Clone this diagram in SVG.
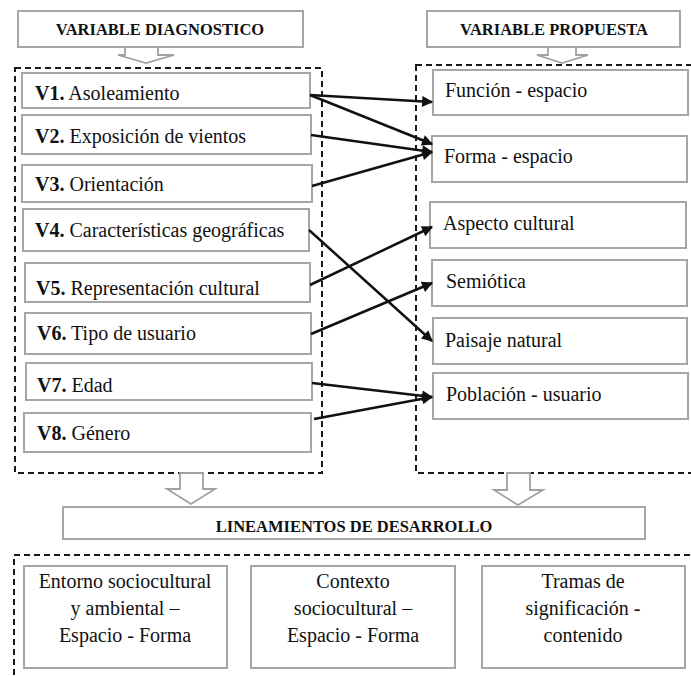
<svg xmlns="http://www.w3.org/2000/svg" width="691" height="677" viewBox="0 0 691 677">
<defs>
<style>
.box{fill:#fff;stroke:#a6a6a6;stroke-width:2}
.dash{fill:none;stroke:#1a1a1a;stroke-width:2;stroke-dasharray:6,4}
.hollow{fill:#fff;stroke:#a0a0a0;stroke-width:1.8;stroke-linejoin:miter}
.t{font-family:"Liberation Serif","Times New Roman",serif;font-size:20px;fill:#111}
.h{font-family:"Liberation Serif","Times New Roman",serif;font-size:16.5px;font-weight:bold;fill:#111}
.c{text-anchor:middle}
.b{font-weight:bold}
.con{fill:none;stroke:#111;stroke-width:2.5;marker-end:url(#ah)}
</style>
<marker id="ah" viewBox="0 0 10 10" refX="9" refY="5" markerWidth="5" markerHeight="4.4" orient="auto" markerUnits="strokeWidth">
<path d="M0,0 L10,5 L0,10 Z" fill="#111"/>
</marker>
</defs>
<rect width="691" height="677" fill="#fff"/>

<!-- containers -->
<rect class="dash" x="15" y="68" width="307" height="405"/>
<rect class="dash" x="416" y="65" width="290" height="408"/>
<rect class="dash" x="14" y="555" width="690" height="140"/>

<!-- hollow arrows -->
<path class="hollow" d="M125,47 L158,47 L158,55 L174,55 L146,63 L118,55 L125,55 Z"/>
<path class="hollow" d="M548,47 L576,47 L576,55 L588,55 L562,63 L537,55 L548,55 Z"/>
<path class="hollow" d="M180,473 L203,473 L203,489 L215,489 L191,504 L167,489 L180,489 Z"/>
<path class="hollow" d="M507,473 L530,473 L530,490 L543,490 L518,505 L494,490 L507,490 Z"/>

<g id="hdr-diag"><rect class="box" x="18" y="11" width="285" height="36"/><text class="h c" x="160" y="35">VARIABLE DIAGNOSTICO</text></g>
<g id="hdr-prop"><rect class="box" x="427" y="11" width="253" height="36"/><text class="h c" x="554" y="35">VARIABLE PROPUESTA</text></g>

<g id="v1"><rect class="box" x="22" y="73" width="288" height="35"/><text class="t" x="35" y="100"><tspan class="b">V1.</tspan> Asoleamiento</text></g>
<g id="v2"><rect class="box" x="22" y="115" width="289" height="39"/><text class="t" x="35" y="143"><tspan class="b">V2.</tspan> Exposición de vientos</text></g>
<g id="v3"><rect class="box" x="22" y="165" width="290" height="37"/><text class="t" x="35" y="191"><tspan class="b">V3.</tspan> Orientación</text></g>
<g id="v4"><rect class="box" x="23" y="209" width="286" height="42"/><text class="t" x="35" y="237"><tspan class="b">V4.</tspan> Características geográficas</text></g>
<g id="v5"><rect class="box" x="25" y="263" width="285" height="39"/><text class="t" x="36" y="295"><tspan class="b">V5.</tspan> Representación cultural</text></g>
<g id="v6"><rect class="box" x="25" y="313" width="286" height="41"/><text class="t" x="37" y="340"><tspan class="b">V6.</tspan> Tipo de usuario</text></g>
<g id="v7"><rect class="box" x="26" y="363" width="286" height="37"/><text class="t" x="37" y="392"><tspan class="b">V7.</tspan> Edad</text></g>
<g id="v8"><rect class="box" x="24" y="413" width="287" height="39"/><text class="t" x="37" y="440"><tspan class="b">V8.</tspan> Género</text></g>

<g id="p1"><rect class="box" x="433" y="70" width="255" height="45"/><text class="t" x="445" y="97">Función - espacio</text></g>
<g id="p2"><rect class="box" x="432" y="136" width="255" height="46"/><text class="t" x="444" y="163">Forma - espacio</text></g>
<g id="p3"><rect class="box" x="430" y="202" width="256" height="46"/><text class="t" x="443" y="230">Aspecto cultural</text></g>
<g id="p4"><rect class="box" x="432" y="260" width="255" height="46"/><text class="t" x="446" y="288">Semiótica</text></g>
<g id="p5"><rect class="box" x="433" y="318" width="254" height="46"/><text class="t" x="445" y="347">Paisaje natural</text></g>
<g id="p6"><rect class="box" x="433" y="373" width="255" height="46"/><text class="t" x="446" y="401">Población - usuario</text></g>

<g id="lineamientos"><rect class="box" x="63" y="507" width="582" height="32"/><text class="h c" x="354" y="532">LINEAMIENTOS DE DESARROLLO</text></g>

<g id="l1"><rect class="box" x="24" y="566" width="203" height="102"/>
<text class="t c" x="125" y="588">Entorno sociocultural</text><text class="t c" x="125" y="615">y ambiental –</text><text class="t c" x="125" y="642">Espacio - Forma</text></g>
<g id="l2"><rect class="box" x="251" y="566" width="204" height="102"/>
<text class="t c" x="353" y="588">Contexto</text><text class="t c" x="353" y="615">sociocultural –</text><text class="t c" x="353" y="642">Espacio - Forma</text></g>
<g id="l3"><rect class="box" x="482" y="566" width="203" height="102"/>
<text class="t c" x="583" y="588">Tramas de</text><text class="t c" x="583" y="615">significación -</text><text class="t c" x="583" y="642">contenido</text></g>

<g id="connectors">
<line class="con" x1="310" y1="95" x2="432" y2="102"/>
<line class="con" x1="310" y1="95" x2="432" y2="144"/>
<line class="con" x1="311" y1="135" x2="432" y2="152"/>
<line class="con" x1="312" y1="186" x2="432" y2="152"/>
<line class="con" x1="309" y1="230" x2="432" y2="341"/>
<line class="con" x1="310" y1="285" x2="432" y2="227"/>
<line class="con" x1="311" y1="334" x2="432" y2="283"/>
<line class="con" x1="312" y1="383" x2="432" y2="397"/>
<line class="con" x1="314" y1="419" x2="432" y2="397"/>
</g>
</svg>
